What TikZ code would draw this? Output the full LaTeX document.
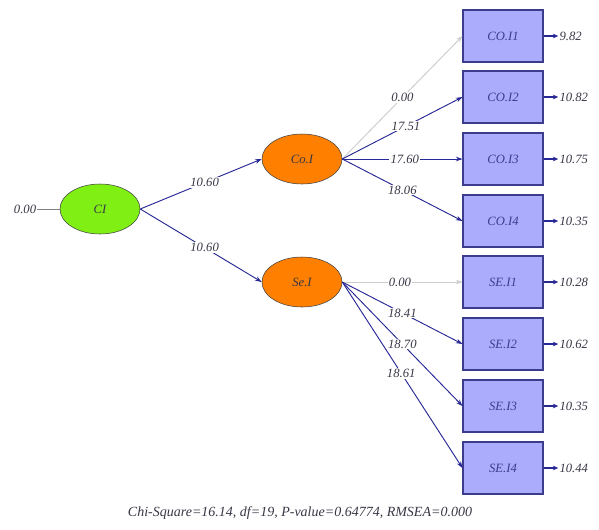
\documentclass[tikz,border=0pt]{standalone}
\usepackage{fontspec}
\setmainfont{Liberation Serif}
\usetikzlibrary{arrows.meta,shapes.geometric}
\definecolor{limeg}{RGB}{128,240,20}
\definecolor{orng}{RGB}{255,128,0}
\definecolor{boxfill}{RGB}{172,172,252}
\definecolor{boxline}{RGB}{60,60,140}
\definecolor{pathblue}{RGB}{40,40,150}
\definecolor{pathgray}{RGB}{205,205,205}
\definecolor{txt}{RGB}{55,55,70}
\begin{document}
\begin{tikzpicture}[x=0.75pt,y=-0.75pt,
  font=\fontsize{9.5}{11}\selectfont\itshape,
  latent/.style={ellipse, draw=black!75, minimum width=60pt, minimum height=37.5pt, inner sep=0pt, text=txt},
  obs/.style={rectangle, draw=boxline, line width=0.8pt, fill=boxfill, minimum width=60pt, minimum height=39pt, inner sep=0pt, text=boxline},
  lbl/.style={fill=white, inner sep=0.8pt, text=txt},
  pathline/.style={draw=pathblue, line width=0.7pt, -{Stealth[length=5pt,width=3.5pt]}},
  fixedline/.style={draw=pathgray, line width=0.7pt, -{Stealth[length=5pt,width=3.5pt]}},
  errline/.style={draw=pathblue, line width=1.1pt, -{Stealth[length=4pt,width=3.5pt]}},
  plain/.style={draw=gray, line width=0.6pt}
]
\useasboundingbox (0,0) rectangle (599,529);
\fill[white] (0,0) rectangle (599,529);

% latent variables
\node[latent, fill=limeg] (CI) at (100,209) {CI};
\node[latent, fill=orng] (CoI) at (302,159) {Co.I};
\node[latent, fill=orng] (SeI) at (302,282) {Se.I};

% observed
\node[obs] (CO1) at (503,36) {CO.I1};
\node[obs] (CO2) at (503,97) {CO.I2};
\node[obs] (CO3) at (503,159) {CO.I3};
\node[obs] (CO4) at (503,221) {CO.I4};
\node[obs] (SE1) at (503,282) {SE.I1};
\node[obs] (SE2) at (503,344) {SE.I2};
\node[obs] (SE3) at (503,406) {SE.I3};
\node[obs] (SE4) at (503,468) {SE.I4};

% CI variance
\node[lbl] (CIv) at (25,209) {0.00};
\draw[plain] (CIv.east) -- (CI.west);

% structural
\draw[pathline] (CI.east) -- node[lbl, pos=0.53] {10.60} (CoI.west);
\draw[pathline] (CI.east) -- node[lbl, pos=0.53] {10.60} (SeI.west);

% loadings Co.I
\draw[fixedline] (CoI.east) -- node[lbl, pos=0.5] {0.00} (CO1.west);
\draw[pathline] (CoI.east) -- node[lbl, pos=0.53] {17.51} (CO2.west);
\draw[pathline] (CoI.east) -- node[lbl, pos=0.52] {17.60} (CO3.west);
\draw[pathline] (CoI.east) -- node[lbl, pos=0.5] {18.06} (CO4.west);

% loadings Se.I
\draw[fixedline] (SeI.east) -- node[lbl, pos=0.48] {0.00} (SE1.west);
\draw[pathline] (SeI.east) -- node[lbl, pos=0.5] {18.41} (SE2.west);
\draw[pathline] (SeI.east) -- node[lbl, pos=0.5] {18.70} (SE3.west);
\draw[pathline] (SeI.east) -- node[lbl, pos=0.49] {18.61} (SE4.west);

% error variances
\foreach \b/\v in {CO1/9.82, CO2/10.82, CO3/10.75, CO4/10.35, SE1/10.28, SE2/10.62, SE3/10.35, SE4/10.44}{
  \node[lbl, anchor=west] (e\b) at ([xshift=11pt]\b.east) {\v};
  \draw[errline] (\b.east) -- (e\b.west);
}

% fit statistics
\node[text=txt, font=\fontsize{10.5}{12}\selectfont\itshape] (fit) at (300,513) {Chi-Square=16.14, df=19, P-value=0.64774, RMSEA=0.000};
\end{tikzpicture}
\end{document}
